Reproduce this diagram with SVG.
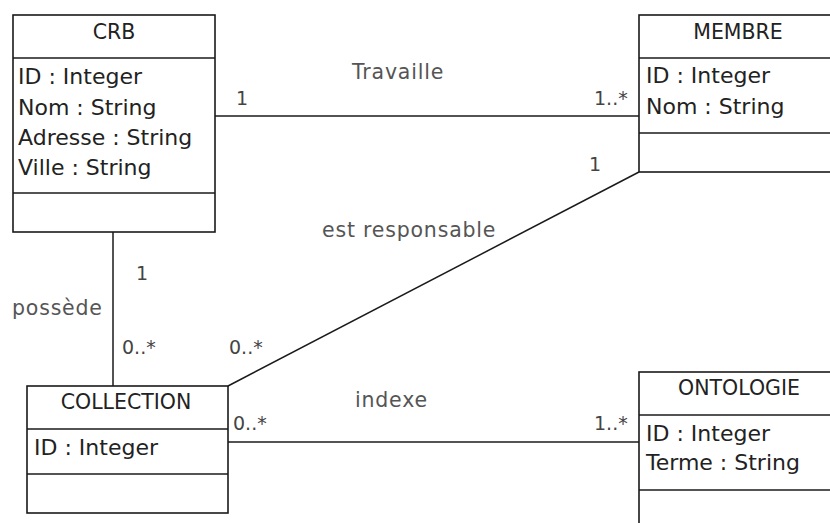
<svg xmlns="http://www.w3.org/2000/svg" width="830" height="523" viewBox="0 0 830 523">
<style>
.box{fill:#fff;stroke:#1a1a1a;stroke-width:1.6}
.sep{stroke:#1a1a1a;stroke-width:1.4}
.title{font-family:"DejaVu Sans",sans-serif;font-size:20.5px;fill:#222;text-anchor:middle}
.attr{font-family:"DejaVu Sans",sans-serif;font-size:22px;fill:#222}
.lbl{font-family:"DejaVu Sans",sans-serif;font-size:20.5px;fill:#555;letter-spacing:0.8px}
.mult{font-family:"DejaVu Sans",sans-serif;font-size:19px;fill:#444}
.conn{stroke:#1a1a1a;stroke-width:1.5;fill:none}
</style>
<rect width="830" height="523" fill="#fff"/>
<g id="connectors">
<line class="conn" x1="215" y1="116" x2="639" y2="116"/>
<line class="conn" x1="113" y1="232" x2="113" y2="386"/>
<line class="conn" x1="228" y1="386" x2="639" y2="172"/>
<line class="conn" x1="228" y1="442" x2="639" y2="442"/>
<text class="lbl" x="352" y="79">Travaille</text>
<text class="mult" x="236" y="105">1</text>
<text class="mult" x="594" y="105">1..*</text>
<text class="mult" x="589" y="171">1</text>
<text class="lbl" x="322" y="237">est responsable</text>
<text class="lbl" x="12" y="315">possède</text>
<text class="mult" x="136" y="280">1</text>
<text class="mult" x="122" y="354">0..*</text>
<text class="mult" x="229" y="354">0..*</text>
<text class="lbl" x="355" y="407">indexe</text>
<text class="mult" x="233" y="430">0..*</text>
<text class="mult" x="594" y="430">1..*</text>
</g>
<g id="CRB">
<rect class="box" x="13" y="15" width="202" height="217"/>
<line class="sep" x1="13" y1="58" x2="215" y2="58"/>
<line class="sep" x1="13" y1="193" x2="215" y2="193"/>
<text class="title" x="114" y="39">CRB</text>
<text class="attr" x="18" y="84">ID : Integer</text>
<text class="attr" x="18" y="115">Nom : String</text>
<text class="attr" x="18" y="145">Adresse : String</text>
<text class="attr" x="18" y="175">Ville : String</text>
</g>
<g id="MEMBRE">
<rect class="box" x="639" y="15" width="200" height="157"/>
<line class="sep" x1="639" y1="58" x2="839" y2="58"/>
<line class="sep" x1="639" y1="133" x2="839" y2="133"/>
<text class="title" x="738" y="39">MEMBRE</text>
<text class="attr" x="646" y="83">ID : Integer</text>
<text class="attr" x="646" y="114">Nom : String</text>
</g>
<g id="COLLECTION">
<rect class="box" x="27" y="386" width="201" height="127"/>
<line class="sep" x1="27" y1="429" x2="228" y2="429"/>
<line class="sep" x1="27" y1="474" x2="228" y2="474"/>
<text class="title" x="126" y="409">COLLECTION</text>
<text class="attr" x="34" y="455">ID : Integer</text>
</g>
<g id="ONTOLOGIE">
<rect class="box" x="639" y="372" width="200" height="170"/>
<line class="sep" x1="639" y1="415" x2="839" y2="415"/>
<line class="sep" x1="639" y1="490" x2="839" y2="490"/>
<text class="title" x="739" y="395">ONTOLOGIE</text>
<text class="attr" x="646" y="441">ID : Integer</text>
<text class="attr" x="646" y="470">Terme : String</text>
</g>
</svg>
